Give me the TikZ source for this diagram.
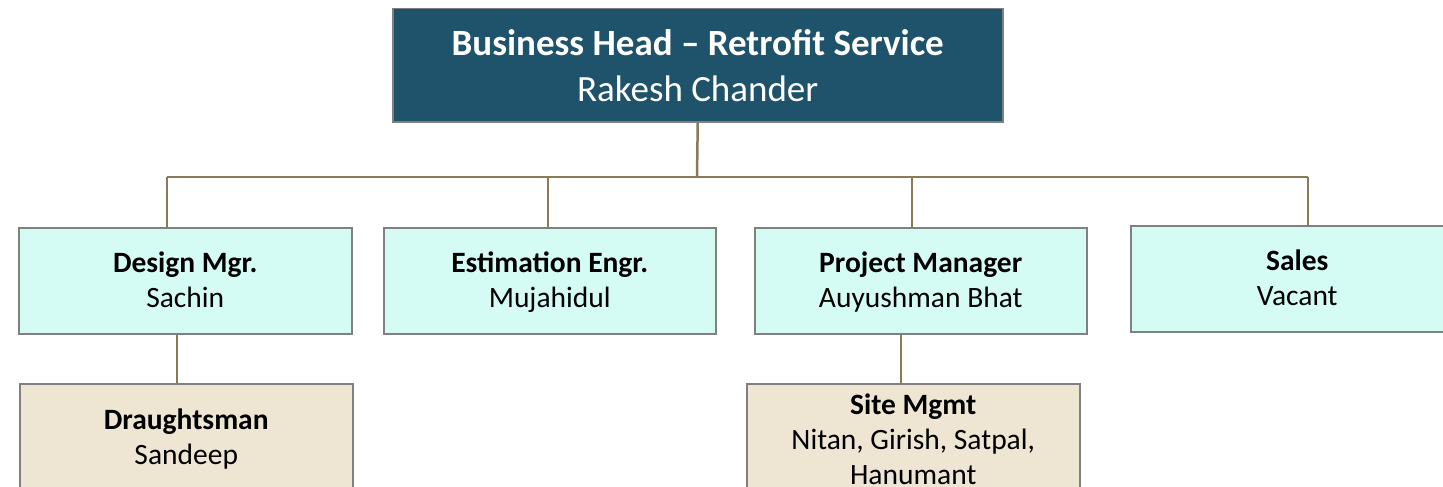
\documentclass[tikz,border=0pt]{standalone}
\usepackage{fontspec}
\setmainfont{Carlito}
\definecolor{topfill}{HTML}{1F536B}
\definecolor{midfill}{HTML}{D5FCF4}
\definecolor{lowfill}{HTML}{EEE6D3}
\definecolor{linkcol}{HTML}{8B7A58}
\definecolor{edgecol}{HTML}{808080}
\newcommand\tallstrut[1]{\rule{0pt}{#1}}
\tikzset{
  box/.style={draw=edgecol, line width=1.5pt, inner sep=0pt, align=center, anchor=north west},
  topbox/.style={box, fill=topfill, text=white, font=\fontsize{37}{46}\selectfont},
  midbox/.style={box, fill=midfill, text=black, font=\fontsize{29.5}{35}\selectfont},
  lowbox/.style={box, fill=lowfill, text=black, font=\fontsize{29.5}{35}\selectfont},
  link/.style={draw=linkcol, line width=2.5pt}
}
\begin{document}
\begin{tikzpicture}[x=1pt,y=-1pt]
\useasboundingbox (0,0) rectangle (1443,487);
\clip (0,0) rectangle (1443,487);
\node[topbox, minimum width=610pt, minimum height=113pt] (top) at (392,8)
  {\tallstrut{40.5pt}\textbf{Business Head – Retrofit Service}\\Rakesh Chander\strut};
\node[midbox, minimum width=333pt, minimum height=106pt] (design) at (18,227)
  {\tallstrut{28.5pt}\textbf{Design Mgr.}\\Sachin\strut};
\node[midbox, minimum width=332pt, minimum height=106pt] (estim) at (383,227)
  {\tallstrut{28.5pt}\textbf{Estimation Engr.}\\Mujahidul\strut};
\node[midbox, minimum width=332pt, minimum height=106pt] (proj) at (754,227)
  {\tallstrut{28.5pt}\textbf{Project Manager}\\Auyushman Bhat\strut};
\node[midbox, minimum width=333pt, minimum height=106pt] (sales) at (1130,225)
  {\tallstrut{28.5pt}\textbf{Sales}\\Vacant\strut};
\node[lowbox, minimum width=333pt, minimum height=111pt] (draught) at (19,383)
  {\tallstrut{26.5pt}\textbf{Draughtsman}\\Sandeep\strut};
\node[lowbox, minimum width=333pt, minimum height=114pt] (site) at (746,383)
  {\tallstrut{28.5pt}\textbf{Site Mgmt}\\Nitan, Girish, Satpal,\\Hanumant\strut};
\coordinate (bar) at (697,177);
\coordinate (b1) at (167,177);
\coordinate (b2) at (548,177);
\coordinate (b3) at (912,177);
\coordinate (b4) at (1308,177);
\coordinate (c1) at (177,333);
\coordinate (c2) at (901,333);
\draw[link] (top.south) -- (bar);
\draw[link] (b1) -- (b4);
\draw[link] (b1) -- (b1 |- design.north);
\draw[link] (b2) -- (b2 |- estim.north);
\draw[link] (b3) -- (b3 |- proj.north);
\draw[link] (b4) -- (b4 |- sales.north);
\draw[link] (c1 |- design.south) -- (c1 |- draught.north);
\draw[link] (c2 |- proj.south) -- (c2 |- site.north);
\end{tikzpicture}
\end{document}
